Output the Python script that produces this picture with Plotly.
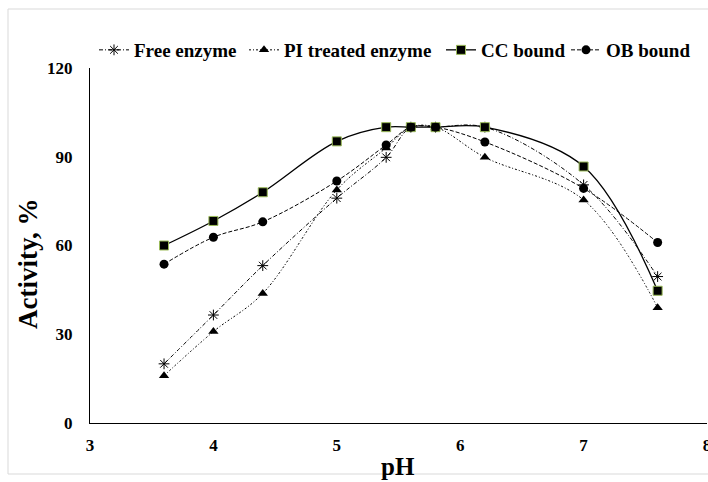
import plotly.graph_objects as go

ph = [3.6, 4.0, 4.4, 5.0, 5.4, 5.6, 5.8, 6.2, 7.0, 7.6]
free_enzyme = [20, 36.5, 53.2, 76, 89.8, 100, 100, 100, 80.5, 49.5]
pi_treated = [16, 30.9, 43.8, 78.8, 93, 100, 100, 89.8, 75.4, 39]
cc_bound = [60, 68.3, 78, 95.2, 100, 100, 100, 100, 86.7, 44.7]
ob_bound = [53.7, 62.8, 68, 81.8, 94, 100, 100, 95, 79.3, 61]

x_ticks = [3, 4, 5, 6, 7, 8]
y_ticks = [0, 30, 60, 90, 120]

FONT = "Liberation Serif, Times New Roman, serif"
W, H = 708, 482
L, R, T, B = 90, 1, 68, 59
pw, ph_ = W - L - R, H - T - B

def px_x(p):
    return (p - L) / pw

def px_y(p):
    return (H - B - p) / ph_

fig = go.Figure()

series = [
    ("Free enzyme", free_enzyme, dict(symbol="asterisk-open", size=9, color="black",
                                      line=dict(color="black", width=1)),
     dict(color="black", width=1, dash="4px,2px,1px,2px"), "legend"),
    ("PI treated enzyme", pi_treated, dict(symbol="triangle-up", size=9, color="black"),
     dict(color="black", width=1, dash="2px,2px,1px,2px"), "legend2"),
    ("CC bound", cc_bound, dict(symbol="square", size=9, color="black",
                                 line=dict(color="#9BBB59", width=1)),
     dict(color="black", width=1.3), "legend3"),
    ("OB bound", ob_bound, dict(symbol="circle", size=9, color="black"),
     dict(color="black", width=1, dash="4px,2px"), "legend4"),
]

for name, ys, mk, ln, lg in series:
    fig.add_trace(go.Scatter(
        x=ph, y=ys, name=name, mode="lines+markers",
        line=dict(shape="spline", smoothing=1, **ln),
        marker=mk, legend=lg,
    ))

legend_common = dict(orientation="h", yanchor="middle", xanchor="left",
                     font=dict(family=FONT, size=19, color="black", weight="bold"),
                     bgcolor="rgba(0,0,0,0)", itemwidth=30, tracegroupgap=0)
leg_x = [94, 244, 441, 566]
layout_legends = {}
for i, xp in enumerate(leg_x):
    key = "legend" if i == 0 else f"legend{i+1}"
    layout_legends[key] = dict(x=px_x(xp), y=px_y(50), **legend_common)

fig.update_layout(
    width=W, height=H,
    margin=dict(l=L, r=R, t=T, b=B, autoexpand=False),
    paper_bgcolor="white", plot_bgcolor="white",
    showlegend=True,
    font=dict(family=FONT, color="black"),
    xaxis=dict(range=[3, 8], tickvals=x_ticks, showgrid=False, zeroline=False,
               showline=True, linecolor="black", linewidth=1.3, ticks="",
               ticklabelstandoff=6, ticklabeloverflow="allow",
               tickfont=dict(family=FONT, size=17, color="black", weight="bold")),
    yaxis=dict(range=[0, 120], tickvals=y_ticks, showgrid=False, zeroline=False,
               showline=True, linecolor="black", linewidth=1.3, ticks="",
               ticklabelstandoff=13,
               tickfont=dict(family=FONT, size=17, color="black", weight="bold")),
    **layout_legends,
)

fig.add_annotation(text="pH", xref="paper", yref="paper", x=px_x(398), y=px_y(466),
                   showarrow=False, xanchor="center", yanchor="middle",
                   font=dict(family=FONT, size=25, color="black", weight="bold"))
fig.add_annotation(text="Activity, %", xref="paper", yref="paper", x=px_x(28), y=px_y(264),
                   showarrow=False, xanchor="center", yanchor="middle", textangle=-90,
                   font=dict(family=FONT, size=27, color="black", weight="bold"))

fig.add_shape(type="rect", xref="paper", yref="paper",
              x0=px_x(8), x1=px_x(730), y0=px_y(474), y1=px_y(9),
              line=dict(color="#D9D9D9", width=1), layer="below")

fig.write_html("out.html", config={"displayModeBar": False},
               post_script="document.body.style.margin='0';document.body.style.overflow='hidden';")
